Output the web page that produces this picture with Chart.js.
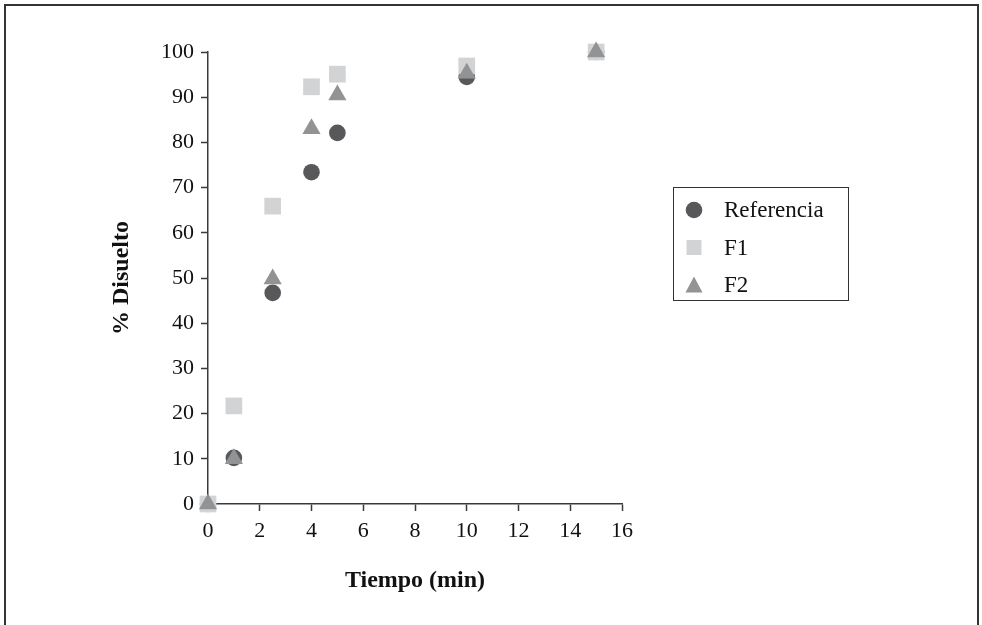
<!DOCTYPE html>
<html lang="es">
<head>
  <meta charset="UTF-8">
  <title>% Disuelto vs Tiempo</title>
  <script src="https://cdn.jsdelivr.net/npm/chart.js"></script>
  <style>
    body {
      margin: 0;
      background: #ffffff;
    }

    .wrap {
      position: relative;
      width: 982px;
      height: 625px;
    }
  </style>
</head>
<body>
  <div class="wrap"><canvas id="chart"></canvas></div>

  <script>
    // data
    const tiempo = [0, 1, 2.5, 4, 5, 10, 15];
    const referencia = [0, 10.2, 46.7, 73.4, 82.1, 94.5, 100];
    const f1 = [0, 21.7, 65.9, 92.3, 95.1, 96.9, 100];
    const f2 = [0, 10, 49.8, 83, 90.5, 95.3, 100];
    const seriesNames = ["Referencia", "F1", "F2"];
    const xTicks = [0, 2, 4, 6, 8, 10, 12, 14, 16];
    const yTicks = [0, 10, 20, 30, 40, 50, 60, 70, 80, 90, 100];

    const FONT = "'Liberation Serif', 'DejaVu Serif', serif";
    const AXIS = "#3a3a3a";

    const toPoints = vals => tiempo.map((t, i) => ({ x: t, y: vals[i] }));

    // outer frame (left, top, right only)
    const framePlugin = {
      id: "frame",
      afterDraw(chart) {
        const ctx = chart.ctx;
        ctx.save();
        ctx.strokeStyle = "#333";
        ctx.lineWidth = 2;
        ctx.beginPath();
        ctx.moveTo(5, 625);
        ctx.lineTo(5, 5);
        ctx.lineTo(978, 5);
        ctx.lineTo(978, 625);
        ctx.stroke();
        ctx.restore();
      }
    };

    // boxed legend on the right
    const boxLegend = {
      id: "boxLegend",
      afterDraw(chart) {
        const ctx = chart.ctx;
        ctx.save();
        ctx.strokeStyle = "#333";
        ctx.lineWidth = 1;
        ctx.strokeRect(673.5, 187.5, 175, 113);
        ctx.font = "23px " + FONT;
        ctx.textBaseline = "middle";
        chart.data.datasets.forEach((ds, i) => {
          const cx = 694, cy = 210 + i * 37.5;
          ctx.fillStyle = ds.backgroundColor;
          ctx.beginPath();
          if (ds.pointStyle === "circle") {
            ctx.arc(cx, cy, 8.3, 0, Math.PI * 2);
          } else if (ds.pointStyle === "rect") {
            ctx.rect(cx - 7.5, cy - 7.5, 15, 15);
          } else {
            ctx.moveTo(cx, cy - 8.5);
            ctx.lineTo(cx + 8.5, cy + 7.5);
            ctx.lineTo(cx - 8.5, cy + 7.5);
            ctx.closePath();
          }
          ctx.fill();
          ctx.fillStyle = "#111";
          ctx.fillText(ds.label, 724, cy + 1);
        });
        ctx.restore();
      }
    };

    new Chart(document.getElementById("chart"), {
      type: "scatter",
      data: {
        datasets: [
          {
            label: seriesNames[0],
            data: toPoints(referencia),
            pointStyle: "circle",
            pointRadius: 8.3,
            pointHoverRadius: 8.3,
            backgroundColor: "#58585a",
            borderWidth: 0,
            clip: false,
            order: 2
          },
          {
            label: seriesNames[1],
            data: toPoints(f1),
            pointStyle: "rect",
            pointRadius: 11.8,
            pointHoverRadius: 11.8,
            backgroundColor: "#d2d3d5",
            borderWidth: 0,
            clip: false,
            order: 1
          },
          {
            label: seriesNames[2],
            data: toPoints(f2),
            pointStyle: "triangle",
            pointRadius: 10.5,
            pointHoverRadius: 10.5,
            backgroundColor: "#929395",
            borderWidth: 0,
            clip: false,
            order: 0
          }
        ]
      },
      options: {
        responsive: true,
        maintainAspectRatio: false,
        animation: false,
        layout: {
          padding: { left: 0, right: 360, top: 52, bottom: 0 }
        },
        plugins: {
          legend: { display: false },
          tooltip: { enabled: false }
        },
        scales: {
          x: {
            type: "linear",
            min: 0,
            max: 16,
            afterBuildTicks: s => { s.ticks = xTicks.map(v => ({ value: v })); },
            afterFit: s => { s.height = 121; },
            border: { color: AXIS, width: 1.5 },
            grid: {
              drawOnChartArea: false,
              drawTicks: true,
              tickLength: 7,
              tickColor: AXIS,
              tickWidth: 1.5
            },
            ticks: {
              color: "#111",
              padding: 7,
              maxRotation: 0,
              font: { family: FONT, size: 22 }
            },
            title: {
              display: true,
              text: "Tiempo (min)",
              color: "#111",
              padding: { top: 0, bottom: 30 },
              font: { family: FONT, size: 24, weight: "bold" }
            }
          },
          y: {
            type: "linear",
            min: 0,
            max: 100,
            afterBuildTicks: s => { s.ticks = yTicks.map(v => ({ value: v })); },
            afterFit: s => { s.width = 208; },
            border: { color: AXIS, width: 1.5 },
            grid: {
              drawOnChartArea: false,
              drawTicks: true,
              tickLength: 7,
              tickColor: AXIS,
              tickWidth: 1.5
            },
            ticks: {
              color: "#111",
              padding: 7,
              font: { family: FONT, size: 22 }
            },
            title: {
              display: true,
              text: "% Disuelto",
              color: "#111",
              padding: { top: 107, bottom: 0 },
              font: { family: FONT, size: 24, weight: "bold" }
            }
          }
        }
      },
      plugins: [framePlugin, boxLegend]
    });
  </script>
</body>
</html>
